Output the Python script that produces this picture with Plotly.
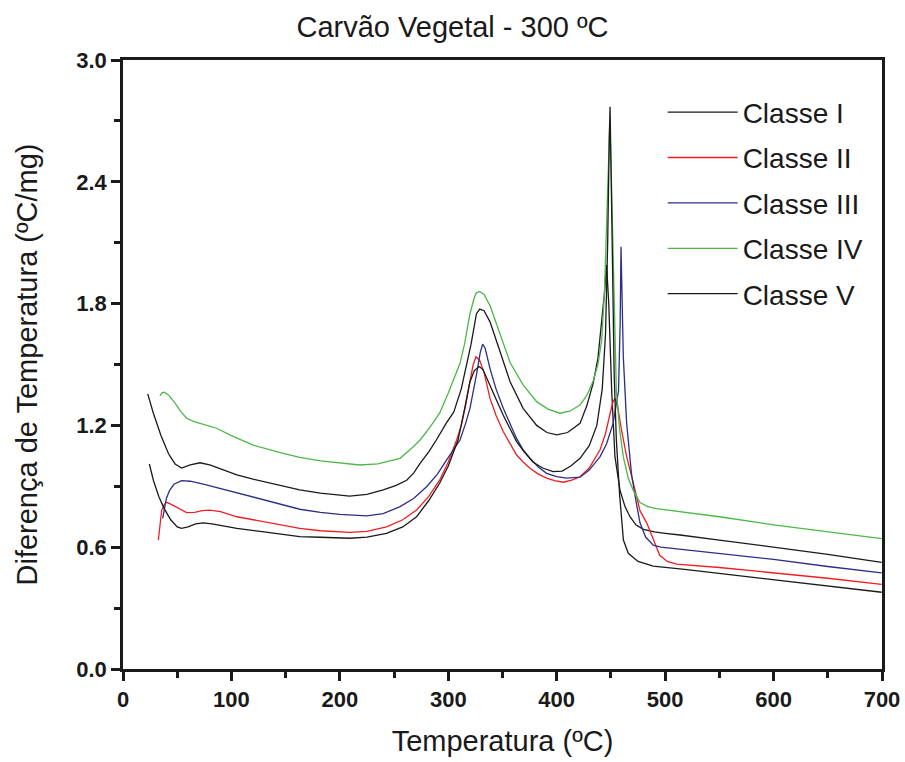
import plotly.graph_objects as go

# Classe I (upper black curve)
x1 = [22.8, 28, 35, 42, 48, 54, 62, 71, 80, 90, 105, 120, 145, 163, 182, 209, 225, 240, 252, 261.6, 268, 274, 282, 289, 298, 305, 312, 317, 321, 326, 329, 333, 338.5, 347.7, 357, 369, 381.5, 391, 400, 410, 421.5, 428, 433.7, 438, 441.5, 444, 446, 448, 450.7, 453.7, 458.4, 463, 467.6, 473, 480, 490, 500, 513.7, 550, 600, 650, 699.7]
y1 = [1.355, 1.26, 1.15, 1.06, 1.01, 0.99, 1.005, 1.016, 1.005, 0.985, 0.956, 0.935, 0.906, 0.882, 0.866, 0.852, 0.86, 0.882, 0.905, 0.93, 0.965, 1.013, 1.07, 1.128, 1.21, 1.265, 1.38, 1.506, 1.60, 1.75, 1.773, 1.765, 1.71, 1.564, 1.415, 1.284, 1.20, 1.165, 1.153, 1.165, 1.21, 1.30, 1.41, 1.53, 1.70, 1.85, 1.99, 1.80, 1.37, 1.046, 0.88, 0.80, 0.75, 0.71, 0.688, 0.675, 0.668, 0.66, 0.635, 0.60, 0.565, 0.525]

# Classe II (red)
x2 = [32.6, 34, 35.7, 38, 40.3, 45, 52, 58.7, 66, 73, 80, 90, 105, 130, 163, 182, 209, 225, 243, 258, 270.8, 282, 292, 300, 307.7, 312, 316, 320, 323, 325.6, 329, 333, 338.5, 344, 350.7, 357, 363, 369, 375.4, 383, 390.7, 398, 406, 414, 421.5, 430, 440, 445, 449, 451.5, 453.7, 456, 460, 464.5, 470, 476.8, 483, 489, 495, 502, 510.6, 550, 600, 650, 699.7]
y2 = [0.635, 0.71, 0.783, 0.81, 0.821, 0.81, 0.79, 0.77, 0.772, 0.78, 0.783, 0.775, 0.75, 0.725, 0.693, 0.681, 0.673, 0.678, 0.70, 0.735, 0.783, 0.85, 0.93, 1.02, 1.128, 1.20, 1.30, 1.42, 1.50, 1.538, 1.52, 1.46, 1.333, 1.25, 1.17, 1.11, 1.054, 1.02, 0.989, 0.96, 0.94, 0.928, 0.92, 0.93, 0.947, 0.99, 1.08, 1.16, 1.26, 1.31, 1.333, 1.30, 1.17, 1.046, 0.93, 0.78, 0.72, 0.64, 0.56, 0.53, 0.517, 0.50, 0.475, 0.447, 0.417]

# Classe III (blue)
x3 = [36.6, 38, 40, 43, 47, 54, 62, 75, 89.5, 110, 140, 163, 182, 200, 224.7, 240, 255.5, 268, 280, 290, 298.5, 305, 310.8, 316, 320, 326, 329.5, 331.7, 334, 338.5, 344, 350.7, 357, 363, 369, 375.4, 383, 390.7, 400, 409, 421.5, 430, 440, 446, 452, 457, 458.5, 459.3, 460.2, 461.4, 464.5, 469, 473, 476.8, 482, 489, 496, 504.5, 550, 600, 650, 699.7]
y3 = [0.742, 0.79, 0.84, 0.88, 0.91, 0.928, 0.925, 0.91, 0.89, 0.86, 0.82, 0.787, 0.772, 0.762, 0.754, 0.765, 0.80, 0.84, 0.898, 0.96, 1.03, 1.08, 1.128, 1.21, 1.284, 1.45, 1.56, 1.60, 1.58, 1.48, 1.38, 1.284, 1.21, 1.136, 1.08, 1.038, 0.995, 0.964, 0.948, 0.94, 0.945, 0.98, 1.046, 1.11, 1.21, 1.37, 1.70, 2.08, 1.85, 1.54, 1.21, 0.96, 0.83, 0.72, 0.65, 0.61, 0.60, 0.595, 0.57, 0.54, 0.505, 0.474]

# Classe IV (green)
x4 = [34, 36, 38, 42, 48, 53, 58.7, 65, 71, 78, 86.4, 100, 120, 145, 163, 182, 200, 218.6, 235, 255.5, 267.7, 274, 283, 292, 300, 305, 310.8, 315, 320, 324, 326, 329, 333, 338.5, 347.7, 357, 369, 381.5, 392, 403, 412, 421.5, 428, 433.7, 438, 441.5, 444, 446, 447.5, 449, 450.5, 452, 455, 458, 461.4, 466, 470.6, 476.8, 484, 492, 550, 600, 650, 699.7]
y4 = [1.345, 1.36, 1.363, 1.35, 1.31, 1.27, 1.235, 1.22, 1.21, 1.20, 1.186, 1.15, 1.103, 1.066, 1.043, 1.025, 1.015, 1.005, 1.01, 1.038, 1.095, 1.128, 1.19, 1.26, 1.36, 1.43, 1.506, 1.60, 1.75, 1.83, 1.854, 1.859, 1.845, 1.79, 1.645, 1.51, 1.40, 1.317, 1.28, 1.26, 1.27, 1.30, 1.35, 1.42, 1.50, 1.62, 1.85, 2.2, 2.5, 2.70, 2.40, 2.03, 1.37, 1.18, 1.046, 0.94, 0.88, 0.82, 0.80, 0.79, 0.75, 0.71, 0.675, 0.642]

# Classe V (lower black curve)
x5 = [24.3, 28, 33, 38, 44, 50, 54, 60, 67, 74, 82, 92, 105, 130, 163, 182, 209, 225, 243, 258, 270.8, 282, 292, 300, 304.6, 309, 315, 320, 324, 328.6, 332, 338.5, 344, 350.7, 357, 363, 370, 378, 387, 396.6, 405, 413, 421.5, 430, 437, 442, 445, 447, 448.5, 449.2, 450, 451.5, 453, 455, 458, 461.5, 466, 475, 489, 520, 600, 650, 699.7]
y5 = [1.01, 0.93, 0.85, 0.79, 0.735, 0.70, 0.693, 0.70, 0.715, 0.72, 0.715, 0.705, 0.693, 0.675, 0.652, 0.649, 0.644, 0.65, 0.668, 0.70, 0.75, 0.83, 0.915, 1.00, 1.063, 1.128, 1.28, 1.415, 1.47, 1.49, 1.475, 1.40, 1.33, 1.25, 1.18, 1.12, 1.07, 1.02, 0.99, 0.972, 0.975, 1.00, 1.038, 1.10, 1.20, 1.38, 1.65, 2.1, 2.62, 2.77, 2.5, 1.9, 1.45, 1.13, 0.86, 0.635, 0.57, 0.53, 0.507, 0.49, 0.44, 0.41, 0.378]

names = ["Classe I", "Classe II", "Classe III", "Classe IV", "Classe V"]
xs = [x1, x2, x3, x4, x5]
ys = [y1, y2, y3, y4, y5]
colors = ["#1a1a1a", "#f01e23", "#2b2f86", "#4cb848", "#1a1a1a"]

x_ticks = [0, 100, 200, 300, 400, 500, 600, 700]
y_ticks = [0.0, 0.6, 1.2, 1.8, 2.4, 3.0]

fig = go.Figure()
for n, xx, yy, c in zip(names, xs, ys, colors):
    fig.add_trace(go.Scatter(x=xx, y=yy, mode="lines", name=n, legendgroup=n,
                             line=dict(color=c, width=1.3)))

axis_common = dict(showgrid=False, zeroline=False, showline=True, linecolor="#1a1a1a",
                   linewidth=2.5, mirror=True, ticks="outside", ticklen=9, tickwidth=2.5,
                   tickcolor="#1a1a1a", automargin=False,
                   tickfont=dict(family="Liberation Sans, Arial", size=22, color="#1a1a1a", weight="bold"))

fig.update_xaxes(range=[0, 700], tickvals=x_ticks, ticktext=[str(v) for v in x_ticks],
                 minor=dict(dtick=50, ticks="outside", ticklen=6, tickwidth=2.5, tickcolor="#1a1a1a"),
                 title=dict(text="Temperatura (ºC)", font=dict(family="Liberation Sans, Arial", size=29, color="#1a1a1a"), standoff=20),
                 **axis_common)
fig.update_yaxes(range=[0, 3.0], tickvals=y_ticks, ticktext=[f"{v:.1f}" for v in y_ticks],
                 minor=dict(dtick=0.3, ticks="outside", ticklen=6, tickwidth=2.5, tickcolor="#1a1a1a"),
                 title=dict(text="Diferença de Temperatura (ºC/mg)", font=dict(family="Liberation Sans, Arial", size=29, color="#1a1a1a"), standoff=31),
                 **axis_common)

fig.update_layout(
    width=905, height=762,
    margin=dict(l=123, r=23, t=60, b=93),
    paper_bgcolor="white", plot_bgcolor="white",
    title=dict(text="Carvão Vegetal - 300 ºC", x=0.5, xref="container", xanchor="center",
               y=0.965, yanchor="middle",
               font=dict(family="Liberation Sans Narrow, Arial Narrow, Liberation Sans", size=29, color="#1a1a1a")),
    legend=dict(x=0.711, y=0.955, xanchor="left", yanchor="top", bgcolor="rgba(0,0,0,0)",
                font=dict(family="Liberation Sans, Arial", size=28, color="#1a1a1a"),
                itemwidth=70, tracegroupgap=6),
    showlegend=True,
)

fig.write_html("out.html")
